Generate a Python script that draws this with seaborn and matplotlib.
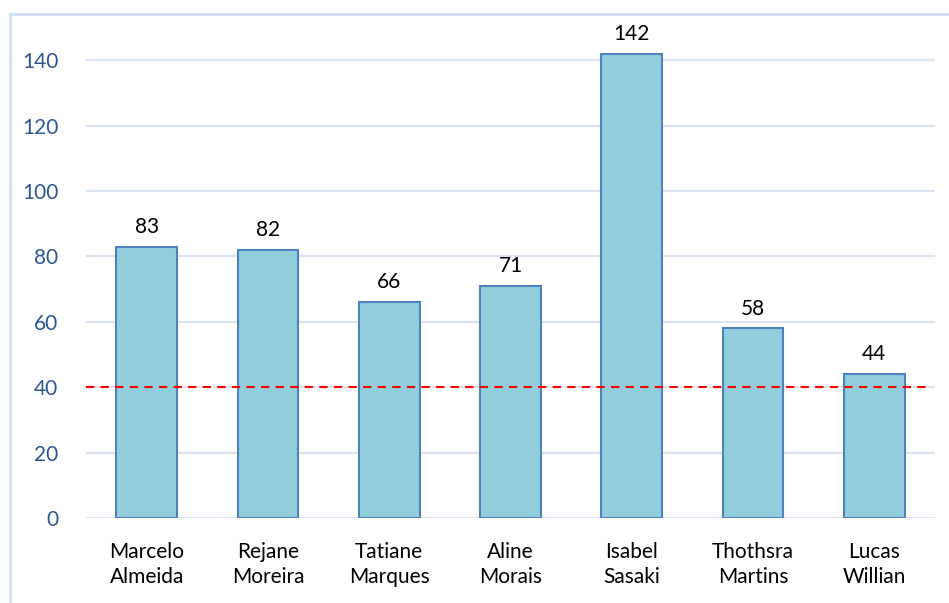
import matplotlib
matplotlib.use("Agg")
import matplotlib.pyplot as plt
import seaborn as sns
import pandas as pd
from matplotlib.patches import Rectangle

names = ["Marcelo\nAlmeida", "Rejane\nMoreira", "Tatiane\nMarques", "Aline\nMorais",
         "Isabel\nSasaki", "Thothsra\nMartins", "Lucas\nWillian"]
values = [83, 82, 66, 71, 142, 58, 44]
threshold = 40
yticks = [0, 20, 40, 60, 80, 100, 120, 140]

df = pd.DataFrame({"name": names, "value": values})

sns.set_theme(style="white")
plt.rcParams['font.family'] = ['Lato', 'DejaVu Sans']

fig = plt.figure(figsize=(9.49, 6.03), dpi=100)
ax = fig.add_axes([86/949, 85/603, (935-86)/949, (518-27.5)/603])

for y in yticks:
    ax.axhline(y, color="#D9E3F1", lw=1.5, zorder=0)

sns.barplot(data=df, x="name", y="value", ax=ax, color="#92CDDC",
            edgecolor="#4F81BD", linewidth=1.5, width=0.5, saturation=1, zorder=2)

for i, v in enumerate(values):
    ax.text(i, v + 3, str(v), ha="center", va="bottom", fontsize=15, color="black")

ax.axhline(threshold, color="#FF0000", lw=1.5, ls=(0, (4, 3)), zorder=3, xmax=0.995)

ax.set_xlim(-0.5, 6.5)
ax.set_ylim(0, 150)
ax.set_yticks(yticks)
ax.set_xlabel("")
ax.set_ylabel("")
for s in ax.spines.values():
    s.set_visible(False)
ax.tick_params(axis="y", labelsize=15, labelcolor="#2B5797", length=0, pad=20)
ax.tick_params(axis="x", labelsize=15, labelcolor="black", length=0, pad=17)
for lab in ax.get_xticklabels():
    lab.set_linespacing(1.35)

frame = Rectangle((10/949, -0.05), 1.0, (603-14)/603 + 0.05, transform=fig.transFigure,
                  fill=False, edgecolor="#D3E1F3", lw=2, clip_on=False)
fig.patches.append(frame)

fig.savefig("out.png", dpi=100)
